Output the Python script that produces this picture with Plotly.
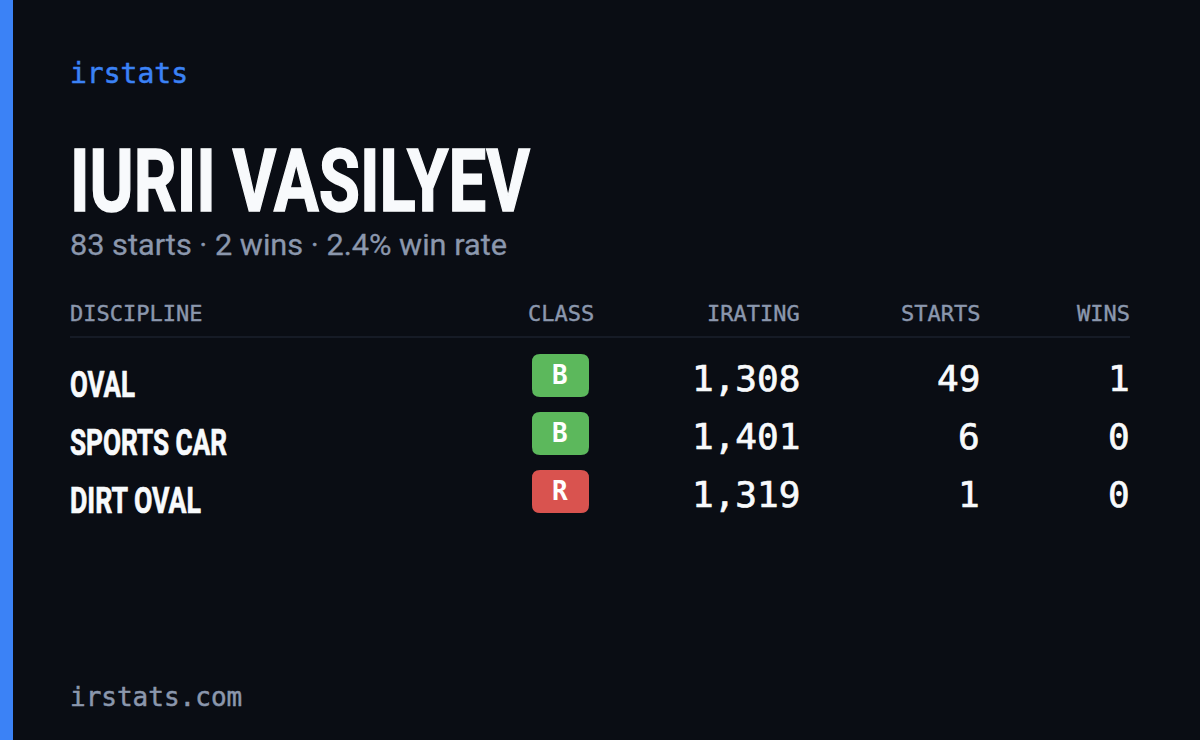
import json
import plotly.graph_objects as go

disciplines = ["OVAL", "SPORTS CAR", "DIRT OVAL"]
classes = ["B", "B", "R"]
class_colors = ["#5cb85c", "#5cb85c", "#d9534f"]
iratings = ["1,308", "1,401", "1,319"]
starts = ["49", "6", "1"]
wins = ["1", "0", "0"]
headers = ["DISCIPLINE", "CLASS", "IRATING", "STARTS", "WINS"]
row_y = [379, 437, 495]
disc_widths = [65, 157, 131]
BG = "#0a0d14"
MUTED = "#8b97ad"
MONO = "DejaVu Sans Mono"
SANS = "Roboto"

shapes = [
    dict(type="rect", xref="paper", yref="paper", x0=0, x1=13/1200, y0=0, y1=1, fillcolor="#3b82f6", line_width=0, layer="below"),
    dict(type="line", xref="x", yref="y", x0=70, x1=1130, y0=337, y1=337, line=dict(color="#161b26", width=2)),
]
ann = []
fits = {}     # annotation index -> target text width in px
strokes = {}  # annotation index -> stroke width, to match the reference's heavier weights

def txt(x, y, s, size, color, font, anchor="left", weight=400, fit=None, stroke=None, height=None):
    i = len(ann)
    shift = {"left": -2, "right": 2, "center": 0}[anchor]
    a = dict(x=x, y=y, xref="x", yref="y", xshift=shift, text=s, showarrow=False, xanchor=anchor, yanchor="middle",
             font=dict(size=size, color=color, family=font, weight=weight))
    if height:
        a["height"] = height
    ann.append(a)
    if fit:
        fits[i] = fit
    if stroke:
        strokes[i] = stroke

txt(70, 73, "irstats", 28, "#3b82f6", MONO, stroke=0.5)
txt(70, 181, "IURII VASILYEV", 87, "#f8fafc", SANS, weight=700, fit=460, height=72, stroke=1.5)
txt(70, 244, "83 starts · 2 wins · 2.4% win rate", 30, MUTED, SANS, fit=437, height=34, stroke=0.3)
txt(70, 697, "irstats.com", 26, MUTED, MONO, stroke=0.5)
txt(70, 313, headers[0], 22, MUTED, MONO, stroke=0.4)
txt(560.5, 313, headers[1], 22, MUTED, MONO, "center", stroke=0.4)
txt(800, 313, headers[2], 22, MUTED, MONO, "right", stroke=0.4)
txt(980, 313, headers[3], 22, MUTED, MONO, "right", stroke=0.4)
txt(1130, 313, headers[4], 22, MUTED, MONO, "right", stroke=0.4)
for i, y in enumerate(row_y):
    shapes.append(dict(type="path", xref="x", yref="y", fillcolor=class_colors[i], line_width=0,
        path=f"M 540 {y-25} L 581 {y-25} Q 589 {y-25} 589 {y-17} L 589 {y+10} Q 589 {y+18} 581 {y+18} L 540 {y+18} Q 532 {y+18} 532 {y+10} L 532 {y-17} Q 532 {y-25} 540 {y-25} Z"))
    txt(70, y+6, disciplines[i], 36, "#f8fafc", SANS, weight=700, fit=disc_widths[i], stroke=0.7)
    txt(560, y-4, classes[i], 26, "#ffffff", MONO, "center", weight=700)
    txt(800, y-1, iratings[i], 36, "#f8fafc", MONO, "right", stroke=0.7)
    txt(980, y-1, starts[i], 36, "#f8fafc", MONO, "right", stroke=0.7)
    txt(1130, y-1, wins[i], 36, "#f8fafc", MONO, "right", stroke=0.7)

fig = go.Figure()
fig.update_layout(width=1200, height=740, margin=dict(l=0, r=0, t=0, b=0), paper_bgcolor=BG, plot_bgcolor=BG,
    shapes=shapes, annotations=ann, showlegend=False,
    xaxis=dict(range=[0, 1200], visible=False), yaxis=dict(range=[740, 0], visible=False))

post = """
document.body.style.margin = '0';
document.body.style.background = '%s';
var fits = %s, strokes = %s;
function textOf(i) { return document.querySelector('.annotation[data-index="' + i + '"] text'); }
Object.keys(fits).forEach(function (i) {
  var t = textOf(i);
  if (!t) return;
  var left = t.getBBox().x;
  t.removeAttribute('clip-path');
  t.style.clipPath = 'none';
  t.style.textAnchor = 'start';
  t.setAttribute('text-anchor', 'start');
  t.setAttribute('x', left);
  t.setAttribute('textLength', fits[i]);
  t.setAttribute('lengthAdjust', 'spacingAndGlyphs');
});
Object.keys(strokes).forEach(function (i) {
  var t = textOf(i);
  if (t) { t.style.stroke = t.style.fill; t.style.strokeWidth = strokes[i] + 'px'; }
});
""" % (BG, json.dumps(fits), json.dumps(strokes))
fig.write_html("out.html", config=dict(displayModeBar=False), post_script=post)
